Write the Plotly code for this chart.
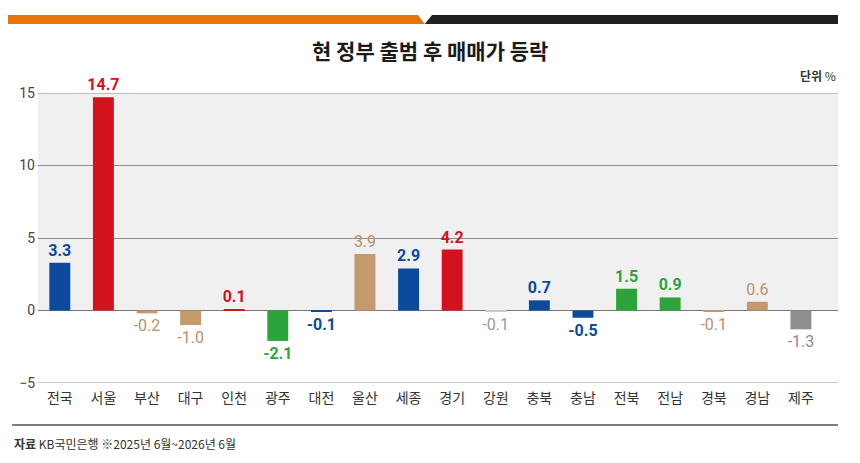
import plotly.graph_objects as go

# data
regions = ["전국", "서울", "부산", "대구", "인천", "광주", "대전", "울산", "세종",
           "경기", "강원", "충북", "충남", "전북", "전남", "경북", "경남", "제주"]
changes = [3.3, 14.7, -0.2, -1.0, 0.1, -2.1, -0.1, 3.9, 2.9,
           4.2, -0.1, 0.7, -0.5, 1.5, 0.9, -0.1, 0.6, -1.3]
groups = ["blue", "red", "tan", "tan", "red", "green", "blue", "tan", "blue",
          "red", "lightgray", "blue", "blue", "green", "green", "tan", "tan", "gray"]
y_ticks = [-5, 0, 5, 10, 15]

BAR_COLORS = {
    "blue": "#0b4a9c", "red": "#d2121c", "tan": "#c49a6c",
    "green": "#2da33c", "gray": "#8f8f8f", "lightgray": "#c8c8c8",
}
TEXT_COLORS = {
    "blue": "#0b4a9c", "red": "#d2121c", "tan": "#b8926a",
    "green": "#2da33c", "gray": "#8a8a8a", "lightgray": "#9a9a9a",
}
BOLD = {"blue", "red", "green"}

KR = "Noto Sans CJK KR"
NUM = "Liberation Sans Narrow, Roboto, sans-serif"

labels = []
for v, g in zip(changes, groups):
    s = f"{v:.1f}"
    labels.append(f"<b>{s}</b>" if g in BOLD else s)

fig = go.Figure(go.Bar(
    x=list(range(len(regions))),
    y=changes,
    width=0.48,
    marker=dict(color=[BAR_COLORS[g] for g in groups], line_width=0),
    text=labels,
    textposition="outside",
    constraintext="none",
    textfont=dict(family=NUM, size=16, color=[TEXT_COLORS[g] for g in groups]),
    cliponaxis=False,
    hoverinfo="x+y",
))

# light band behind the positive side
fig.add_shape(type="rect", xref="paper", yref="y", x0=0, x1=1, y0=0, y1=y_ticks[-1],
              fillcolor="#f0f0f0", line_width=0, layer="below")

# gridlines at the ends of the range (plotly skips the edge ones)
for yv in (y_ticks[0], y_ticks[-1]):
    fig.add_shape(type="line", xref="paper", yref="y", x0=0, x1=1, y0=yv, y1=yv,
                  line=dict(color="#8c8c8c", width=1), layer="below")

# header strip: orange / black with a notch
fig.add_shape(type="path", xref="paper", yref="paper",
              path="M -0.0375 1.269 L 0.475 1.269 L 0.4835 1.238 L -0.0375 1.238 Z",
              fillcolor="#e8730c", line_width=0)
fig.add_shape(type="path", xref="paper", yref="paper",
              path="M 0.4925 1.269 L 1.0 1.269 L 1.0 1.238 L 0.4835 1.238 Z",
              fillcolor="#231f20", line_width=0)

# footer rule
fig.add_shape(type="line", xref="paper", yref="paper",
              x0=-0.0325, x1=1.0, y0=-0.1448, y1=-0.1448,
              line=dict(color="#555555", width=1.5))

fig.add_annotation(text="<b>현 정부 출범 후 매매가 등락</b>", xref="paper", yref="paper",
                   x=0.49, y=1.148, showarrow=False, xanchor="center", yanchor="middle",
                   font=dict(family=KR, size=21, color="#1a1a1a"))
fig.add_annotation(text="<b>단위</b> %", xref="paper", yref="paper",
                   x=1.0, y=1.062, showarrow=False, xanchor="right", yanchor="middle",
                   font=dict(family=KR, size=12, color="#333333"))
fig.add_annotation(text="<b>자료</b> KB국민은행 ※2025년 6월~2026년 6월", xref="paper", yref="paper",
                   x=-0.0325, y=-0.207, showarrow=False, xanchor="left", yanchor="middle",
                   font=dict(family=KR, size=12, color="#333333"))

fig.update_xaxes(
    tickmode="array", tickvals=list(range(len(regions))), ticktext=regions,
    range=[-0.5, 17.85], showgrid=False, zeroline=False, showline=False,
    tickfont=dict(family=KR, size=14, color="#333333"), ticklabelstandoff=5,
    fixedrange=True,
)
fig.update_yaxes(
    range=[-5, 15], tickvals=y_ticks, showgrid=True, gridcolor="#8c8c8c", gridwidth=1,
    zeroline=True, zerolinecolor="#777777", zerolinewidth=1,
    tickfont=dict(family="Roboto, sans-serif", size=14, color="#444444"),
    ticklabelstandoff=2, fixedrange=True,
)

# page body has an 8px margin, so the figure is 8px smaller on each axis
fig.update_layout(
    width=852, height=455,
    margin=dict(l=30, r=22, t=85, b=80),
    paper_bgcolor="white", plot_bgcolor="white",
    showlegend=False, bargap=0.5,
)

fig.write_html("out.html")
